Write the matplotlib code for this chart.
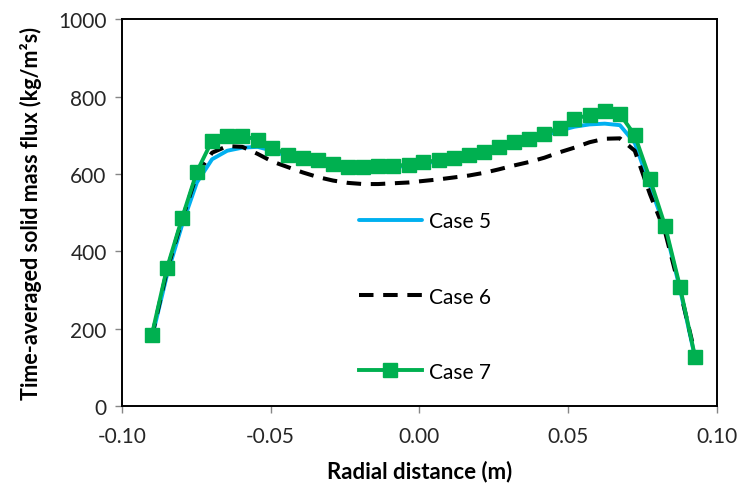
import numpy as np
import matplotlib
matplotlib.use("Agg")
import matplotlib.pyplot as plt

plt.rcParams['font.family'] = ['Lato', 'DejaVu Sans']

# radial positions (m)
r = [-0.0900, -0.0849, -0.0798, -0.0748, -0.0697, -0.0646, -0.0595, -0.0544,
     -0.0494, -0.0443, -0.0392, -0.0341, -0.0290, -0.0240, -0.0189, -0.0138,
     -0.0087, -0.0036, 0.0014, 0.0065, 0.0116, 0.0167, 0.0218, 0.0268,
     0.0319, 0.0370, 0.0421, 0.0472, 0.0522, 0.0573, 0.0624, 0.0675,
     0.0725, 0.0776, 0.0827, 0.0877, 0.0928]

case5 = [175, 338, 468, 578, 638, 660, 668, 670, 660, 646, 638, 633, 624, 615,
         614, 617, 618, 621, 627, 633, 638, 647, 653, 666, 678, 687, 698, 712,
         722, 728, 730, 726, 680, 570, 460, 303, 125]

case6 = [178, 350, 482, 600, 655, 672, 670, 652, 632, 618, 604, 592, 583, 577,
         574, 574, 576, 578, 582, 586, 591, 596, 603, 612, 622, 631, 642, 656,
         668, 682, 691, 692, 660, 548, 450, 300, 135]

case7 = [183, 356, 486, 606, 686, 699, 699, 688, 668, 650, 642, 637, 627, 618,
         617, 620, 621, 624, 630, 636, 641, 650, 656, 669, 682, 690, 703, 720,
         742, 753, 763, 755, 700, 587, 466, 309, 127]

labels = ["Case 5", "Case 6", "Case 7"]

fig = plt.figure(figsize=(7.38, 4.89), dpi=100)
ax = fig.add_axes([0.1653, 0.1671, 0.8056, 0.7918])

ax.plot(r, case5, color="#00B0F0", lw=2.8, label=labels[0], solid_capstyle="round")
ax.plot(r, case6, color="black", lw=2.9, dashes=(3.6, 2.4), label=labels[1])
ax.plot(r, case7, color="#00B050", lw=2.8, marker="s", ms=10,
        label=labels[2])

ax.set_xlim(-0.10, 0.10)
ax.set_ylim(0, 1000)
ax.set_xticks([-0.10, -0.05, 0.00, 0.05, 0.10])
ax.set_xticklabels(["-0.10", "-0.05", "0.00", "0.05", "0.10"])
ax.set_yticks([0, 200, 400, 600, 800, 1000])

ax.tick_params(axis="both", direction="out", length=5, width=1,
               color="#868686", labelsize=15, labelcolor="#262626")
ax.tick_params(axis="x", pad=9)
ax.tick_params(axis="y", pad=6)
for s in ax.spines.values():
    s.set_color("black")
    s.set_linewidth(1.4)

ax.set_xlabel("Radial distance (m)", fontsize=16, fontweight="bold", labelpad=10)
ax.set_ylabel("Time-averaged solid mass flux (kg/m\u00b2s)", fontsize=15.5,
              fontweight="bold", labelpad=12)

leg = ax.legend(loc="upper left", bbox_to_anchor=(0.385, 0.525), frameon=False,
                fontsize=15, handlelength=3.0, handletextpad=0.35,
                labelspacing=2.65, numpoints=1, borderaxespad=0)

fig.savefig("out.png", dpi=100)
